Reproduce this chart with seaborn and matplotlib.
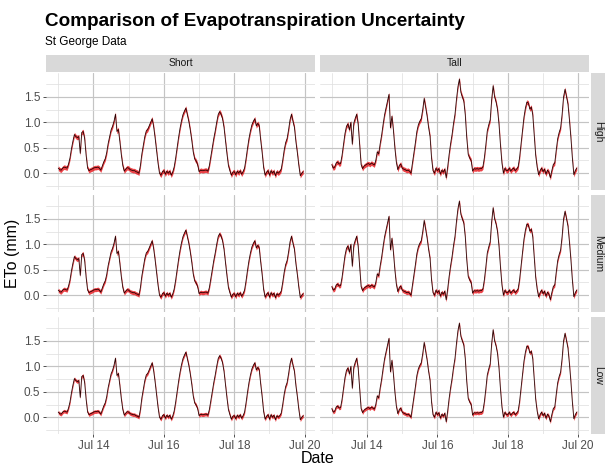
import numpy as np
import pandas as pd
import matplotlib
matplotlib.use("Agg")
import matplotlib.pyplot as plt
from matplotlib.patches import Rectangle
import seaborn as sns

# ---------------- data (hourly ETo, mm) ----------------
start_time = "2023-07-13 00:00"
types = ["Short", "Tall"]
levels = ["High", "Medium", "Low"]
level_halfwidth = [0.045, 0.04, 0.035]

short_jul13 = [0.10, 0.07, 0.06, 0.10, 0.12, 0.11, 0.10, 0.18, 0.30, 0.48, 0.63, 0.76, 0.72, 0.70, 0.72, 0.39, 0.80, 0.82, 0.68, 0.35, 0.10, 0.05, 0.07, 0.08]
short_jul14 = [0.10, 0.11, 0.11, 0.12, 0.10, 0.06, 0.14, 0.22, 0.28, 0.40, 0.58, 0.72, 0.85, 0.92, 1.02, 1.16, 0.82, 0.86, 0.62, 0.36, 0.15, 0.04, 0.08, 0.11]
short_jul15 = [0.10, 0.07, 0.06, 0.05, 0.05, 0.03, 0.02, 0.00, 0.15, 0.38, 0.55, 0.72, 0.83, 0.86, 0.93, 1.00, 1.07, 0.92, 0.70, 0.45, 0.20, 0.00, -0.04, 0.03]
short_jul16 = [0.05, -0.02, 0.04, 0.00, 0.04, -0.04, 0.02, 0.12, 0.29, 0.50, 0.70, 0.88, 1.03, 1.15, 1.22, 1.28, 1.15, 1.02, 0.85, 0.65, 0.42, 0.28, 0.24, 0.17]
short_jul17 = [0.03, 0.06, 0.05, 0.05, 0.06, 0.06, 0.04, 0.15, 0.32, 0.50, 0.68, 0.83, 1.00, 1.15, 1.21, 1.16, 1.07, 0.90, 0.63, 0.38, 0.15, 0.05, -0.04, 0.02]
short_jul18 = [0.03, -0.03, 0.04, 0.00, 0.05, -0.02, 0.03, 0.10, 0.28, 0.49, 0.68, 0.83, 0.95, 1.02, 1.07, 0.93, 0.98, 0.93, 0.65, 0.40, 0.11, -0.04, 0.02, 0.05]
short_jul19 = [-0.04, 0.05, 0.00, 0.04, -0.05, 0.03, 0.00, 0.03, 0.08, 0.25, 0.45, 0.60, 0.68, 0.85, 1.05, 1.16, 1.02, 0.90, 0.62, 0.40, 0.15, -0.05, 0.00, 0.03]

tall_jul13 = [0.17, 0.10, 0.12, 0.20, 0.22, 0.18, 0.19, 0.35, 0.57, 0.78, 0.92, 0.97, 0.85, 1.00, 0.57, 0.98, 1.08, 1.16, 0.96, 0.55, 0.17, 0.09, 0.14, 0.16]
tall_jul14 = [0.18, 0.19, 0.17, 0.20, 0.18, 0.16, 0.25, 0.42, 0.38, 0.58, 0.75, 0.96, 1.15, 1.29, 1.42, 1.55, 0.89, 1.12, 0.85, 0.50, 0.22, 0.07, 0.15, 0.18]
tall_jul15 = [0.10, 0.08, 0.07, 0.05, 0.06, 0.04, 0.00, 0.20, 0.40, 0.60, 0.82, 0.95, 1.02, 1.07, 1.25, 1.47, 1.30, 1.12, 0.90, 0.72, 0.30, 0.05, 0.00, 0.10]
tall_jul16 = [0.05, 0.09, -0.02, 0.06, 0.02, 0.08, -0.09, 0.12, 0.37, 0.58, 0.76, 0.98, 1.16, 1.45, 1.70, 1.85, 1.59, 1.50, 1.42, 1.15, 0.70, 0.37, 0.30, 0.25]
tall_jul17 = [0.04, 0.09, 0.08, 0.09, 0.08, 0.09, 0.09, 0.12, 0.30, 0.55, 0.83, 0.95, 1.05, 1.45, 1.72, 1.50, 1.40, 1.25, 0.96, 0.55, 0.20, 0.00, 0.10, 0.05]
tall_jul18 = [0.05, 0.10, 0.04, 0.08, 0.10, 0.05, 0.08, 0.12, 0.30, 0.57, 0.85, 1.10, 1.28, 1.40, 1.38, 1.26, 1.30, 1.15, 0.76, 0.35, 0.12, -0.03, 0.05, 0.10]
tall_jul19 = [0.03, 0.08, -0.02, 0.06, 0.02, -0.09, 0.05, 0.17, 0.20, 0.45, 0.68, 0.80, 0.89, 1.15, 1.50, 1.65, 1.50, 1.36, 1.05, 0.70, 0.30, -0.03, 0.05, 0.10]

short_eto = short_jul13 + short_jul14 + short_jul15 + short_jul16 + short_jul17 + short_jul18 + short_jul19
tall_eto = tall_jul13 + tall_jul14 + tall_jul15 + tall_jul16 + tall_jul17 + tall_jul18 + tall_jul19

y_ticks = [0.0, 0.5, 1.0, 1.5]
y_tick_labels = ["0.0", "0.5", "1.0", "1.5"]
x_tick_dates = ["2023-07-14", "2023-07-16", "2023-07-18", "2023-07-20"]
x_minor_dates = ["2023-07-13", "2023-07-15", "2023-07-17", "2023-07-19"]
x_tick_labels = ["Jul 14", "Jul 16", "Jul 18", "Jul 20"]

# ---------------- build long table ----------------
dates = pd.date_range(start_time, periods=len(short_eto), freq="h")
series = {"Short": short_eto, "Tall": tall_eto}
rows = []
for lvl, hw in zip(levels, level_halfwidth):
    for t in types:
        vals = np.array(series[t])
        rows.append(pd.DataFrame({"Date": dates, "ETo": vals, "lo": vals - hw,
                                  "hi": vals + hw, "Level": lvl, "Type": t}))
df = pd.concat(rows, ignore_index=True)

# ---------------- plot ----------------
sns.set_theme(style="white")
plt.rcParams["font.family"] = ["Liberation Sans", "DejaVu Sans"]

W, H = 605, 466
g = sns.FacetGrid(df, row="Level", col="Type", row_order=levels, col_order=types,
                  sharex=True, sharey=True, height=1.2, aspect=2.3, despine=False)
g.figure.set_size_inches(W / 100, H / 100)


def ribbon(data, **kw):
    ax = plt.gca()
    ax.fill_between(data["Date"], data["lo"], data["hi"], color="#e8141a", alpha=0.8,
                    linewidth=0, zorder=2)


g.map_dataframe(ribbon)
g.map_dataframe(sns.lineplot, x="Date", y="ETo", color="#2a0000", linewidth=0.6,
                zorder=3, estimator=None)
g.set_axis_labels("", "")

x0 = pd.Timestamp(dates[0])
x1 = pd.Timestamp(dates[-1])
span = x1 - x0
xlim = (x0 - span * 0.05, x1 + span * 0.05)

for ax in g.axes.flat:
    ax.set_title("")
    ax.set_xlim(xlim)
    ax.set_ylim(-0.33, 1.97)
    ax.set_facecolor("white")
    for s in ax.spines.values():
        s.set_visible(False)
    ax.set_yticks(y_ticks)
    ax.set_yticks([-0.25, 0.25, 0.75, 1.25, 1.75], minor=True)
    ax.set_xticks(pd.to_datetime(x_tick_dates))
    ax.set_xticks(pd.to_datetime(x_minor_dates), minor=True)
    ax.grid(True, which="major", color="#c4c4c4", linewidth=0.85, zorder=0)
    ax.grid(True, which="minor", color="#e0e0e0", linewidth=0.55, zorder=0)
    ax.set_axisbelow(True)
    ax.tick_params(which="major", length=2.5, width=0.6, color="#333333",
                   labelsize=8.5, labelcolor="#4d4d4d", pad=1.5)
    ax.tick_params(which="minor", length=0)

for i, row_axes in enumerate(g.axes):
    for j, ax in enumerate(row_axes):
        if j == 0:
            ax.set_yticklabels(y_tick_labels)
            ax.tick_params(axis="y", left=True, labelleft=True)
        else:
            ax.tick_params(axis="y", left=False, labelleft=False)
        if i == len(g.axes) - 1:
            ax.set_xticklabels(x_tick_labels)
            ax.tick_params(axis="x", bottom=True, labelbottom=True)
        else:
            ax.tick_params(axis="x", bottom=False, labelbottom=False)

fig = g.figure
left, right = 46 / W, 589 / W
top, bottom = 1 - 73 / H, 1 - 434 / H
fig.subplots_adjust(left=left, right=right, top=top, bottom=bottom,
                    wspace=0.015, hspace=0.043)

# strips
strip_col = "#d9d9d9"
for j, t in enumerate(types):
    pos = g.axes[0][j].get_position()
    y0 = 1 - 72 / H
    h = 17 / H
    fig.add_artist(Rectangle((pos.x0, y0), pos.width, h, transform=fig.transFigure,
                             facecolor=strip_col, edgecolor="none"))
    fig.text(pos.x0 + pos.width / 2, y0 + h / 2, t, ha="center", va="center",
             fontsize=7.5, color="#1a1a1a")
for i, lvl in enumerate(levels):
    pos = g.axes[i][1].get_position()
    x0s = 591 / W
    w = 1 - x0s
    fig.add_artist(Rectangle((x0s, pos.y0), w, pos.height, transform=fig.transFigure,
                             facecolor=strip_col, edgecolor="none"))
    fig.text(x0s + w / 2 + 0.001, pos.y0 + pos.height / 2, lvl, ha="center", va="center",
             rotation=-90, fontsize=7.5, color="#1a1a1a")

fig.text(45 / W, 1 - 26 / H, "Comparison of Evapotranspiration Uncertainty",
         fontsize=13.6, fontweight="bold", ha="left", va="baseline", color="black")
fig.text(45 / W, 1 - 45 / H, "St George Data", fontsize=8.5, ha="left",
         va="baseline", color="black")
fig.text((left + right) / 2, 1 - 463 / H, "Date", fontsize=11.5, ha="center",
         va="baseline", color="black")
fig.text(13 / W, (top + bottom) / 2, "ETo (mm)", fontsize=11.5, rotation=90,
         ha="center", va="center", color="black")

fig.savefig("out.png", dpi=100, facecolor="white")
